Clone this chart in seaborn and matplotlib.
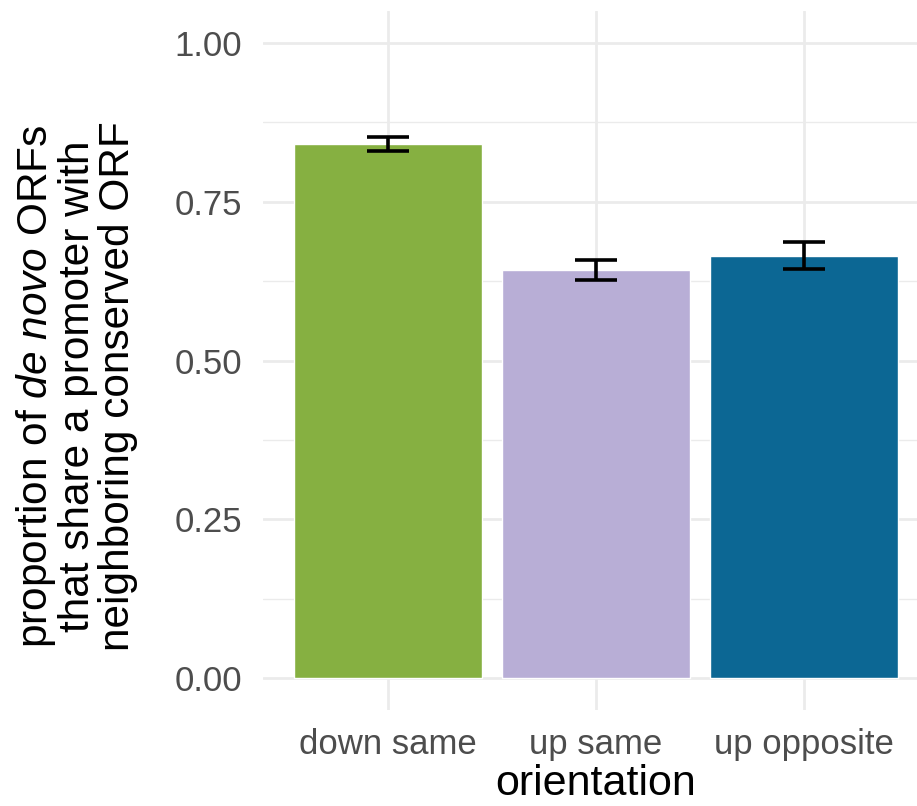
import matplotlib
matplotlib.use("Agg")
import matplotlib.pyplot as plt
from matplotlib.ticker import FixedLocator
import seaborn as sns
import pandas as pd

# proportion of de novo ORFs sharing a promoter, by orientation
orientation = ["down same", "up same", "up opposite"]
proportion = [0.841, 0.642, 0.665]
ci_low = [0.830, 0.627, 0.644]
ci_high = [0.852, 0.658, 0.687]
bar_colors = ["#86b041", "#b8aed6", "#0c6794"]
y_ticks = [0.00, 0.25, 0.50, 0.75, 1.00]
y_tick_labels = ["0.00", "0.25", "0.50", "0.75", "1.00"]

df = pd.DataFrame({"orientation": orientation, "proportion": proportion})

sns.set_theme(style="white")
plt.rcParams["font.family"] = ["Liberation Sans", "DejaVu Sans"]
plt.rcParams["mathtext.fontset"] = "custom"
plt.rcParams["mathtext.rm"] = "Liberation Sans"
plt.rcParams["mathtext.it"] = "Liberation Sans:italic"

fig = plt.figure(figsize=(9.17, 8.06), dpi=100)
ax = fig.add_axes([263 / 917, 1 - 710 / 806, 666 / 917, 699 / 806])

sns.barplot(data=df, x="orientation", y="proportion", hue="orientation",
            palette=bar_colors, order=orientation, width=0.9,
            errorbar=None, legend=False, ax=ax, zorder=2, saturation=1)

yerr = [[p - lo for p, lo in zip(proportion, ci_low)],
        [hi - p for p, hi in zip(proportion, ci_high)]]
ax.errorbar(range(len(orientation)), proportion, yerr=yerr, fmt="none",
            ecolor="black", elinewidth=2.6, capsize=15, capthick=2.6, zorder=3)

ax.set_xlim(-0.6, 2.6)
ax.set_ylim(-0.05, 1.05)
ax.yaxis.set_major_locator(FixedLocator(y_ticks))
ax.set_yticklabels(y_tick_labels)
ax.yaxis.set_minor_locator(FixedLocator([0.125, 0.375, 0.625, 0.875]))

ax.grid(True, which="major", color="#ebebeb", linewidth=2.0, zorder=0)
ax.grid(True, which="minor", axis="y", color="#ebebeb", linewidth=1.0, zorder=0)
ax.set_axisbelow(True)
for s in ax.spines.values():
    s.set_visible(False)

ax.tick_params(axis="both", which="both", length=0, labelsize=25,
               labelcolor="#4d4d4d")
ax.tick_params(axis="y", pad=15)
ax.tick_params(axis="x", pad=13)

ax.set_xlabel("orientation", fontsize=31, color="black", labelpad=2)
ax.set_ylabel("")
fig.text(76 / 917, 1 - 386 / 806,
         "proportion of $\\mathit{de\\ novo}$ ORFs\nthat share a promoter with\nneighboring conserved ORF",
         rotation=90, ha="center", va="center", fontsize=30.5,
         multialignment="center", linespacing=1.0, color="black")

fig.savefig("out.png", dpi=100)
